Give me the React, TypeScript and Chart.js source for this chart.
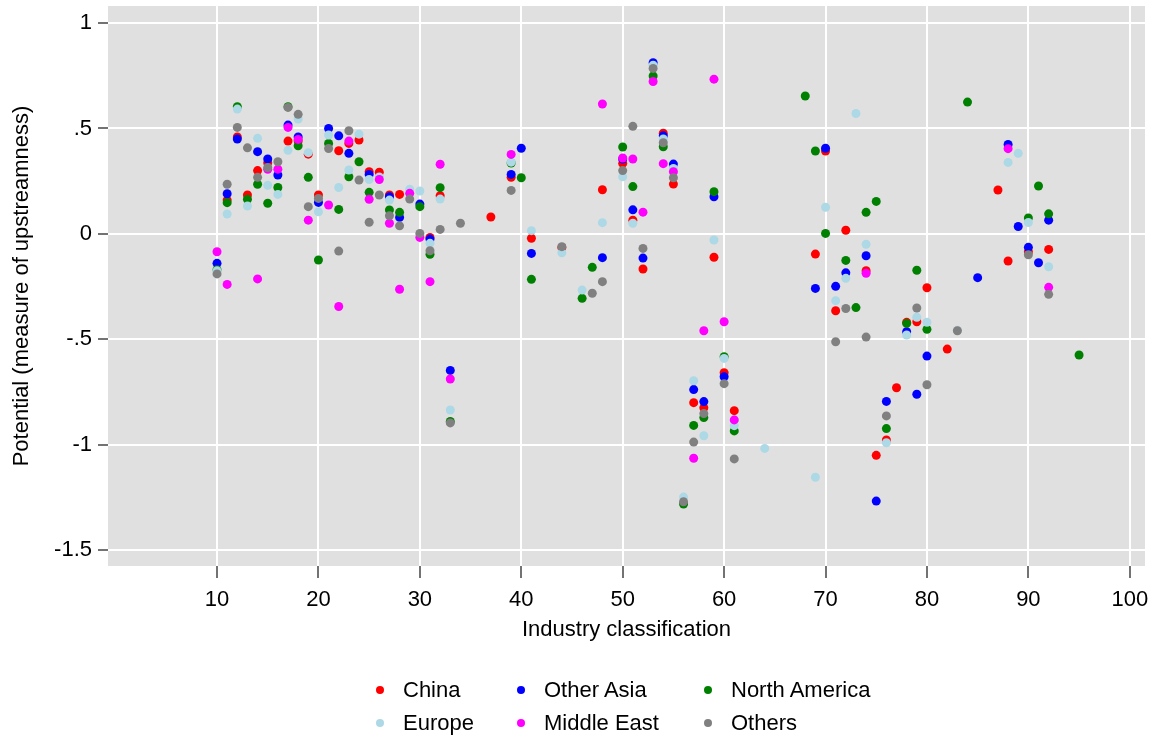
import React, { useEffect, useRef } from "react";
import { Chart, registerables } from "chart.js";

Chart.register(...registerables);

const FONT = '"Liberation Sans", Arial, Helvetica, sans-serif';

const seriesNames = ["China", "Other Asia", "North America", "Europe", "Middle East", "Others"];
const seriesColors = ["#ff0000", "#0000ff", "#008000", "#add8e6", "#ff00ff", "#808080"];

const chinaX = [11, 12, 13, 14, 15, 17, 18, 19, 20, 22, 23, 24, 25, 26, 27, 28, 31, 32, 37, 39, 41, 44, 48, 50, 51, 52, 54, 55, 57, 58, 59, 60, 61, 69, 70, 71, 72, 74, 75, 76, 77, 78, 79, 80, 82, 87, 88, 90, 92];
const chinaY = [0.16, 0.46, 0.184, 0.3, 0.337, 0.44, 0.44, 0.378, 0.184, 0.394, 0.429, 0.445, 0.295, 0.292, 0.184, 0.187, -0.017, 0.181, 0.08, 0.268, -0.021, -0.065, 0.209, 0.334, 0.065, -0.167, 0.477, 0.236, -0.801, -0.825, -0.111, -0.659, -0.839, -0.096, 0.393, -0.365, 0.017, -0.175, -1.051, -0.978, -0.73, -0.42, -0.417, -0.256, -0.547, 0.208, -0.129, -0.085, -0.074];

const otherAsiaX = [10, 11, 12, 14, 15, 16, 17, 18, 20, 21, 22, 23, 25, 27, 28, 30, 31, 33, 39, 40, 41, 48, 50, 51, 52, 53, 54, 55, 57, 58, 59, 60, 69, 70, 71, 72, 74, 75, 76, 78, 79, 80, 85, 88, 89, 90, 91, 92];
const otherAsiaY = [-0.14, 0.19, 0.45, 0.39, 0.355, 0.279, 0.516, 0.46, 0.149, 0.5, 0.465, 0.382, 0.282, 0.176, 0.078, 0.141, -0.025, -0.648, 0.282, 0.406, -0.093, -0.113, 0.355, 0.114, -0.115, 0.812, 0.465, 0.331, -0.739, -0.796, 0.176, -0.678, -0.259, 0.406, -0.249, -0.185, -0.104, -1.268, -0.795, -0.464, -0.761, -0.58, -0.208, 0.424, 0.035, -0.064, -0.137, 0.065];

const northAmericaX = [10, 11, 12, 13, 14, 15, 16, 17, 18, 19, 20, 21, 22, 23, 24, 25, 27, 28, 30, 31, 32, 33, 39, 40, 41, 46, 47, 50, 51, 53, 54, 56, 57, 58, 59, 60, 61, 68, 69, 70, 72, 73, 74, 75, 76, 78, 79, 80, 84, 90, 91, 92, 95];
const northAmericaY = [-0.17, 0.148, 0.603, 0.164, 0.235, 0.145, 0.22, 0.603, 0.418, 0.268, -0.124, 0.429, 0.116, 0.271, 0.342, 0.197, 0.113, 0.102, 0.129, -0.097, 0.219, -0.89, 0.336, 0.266, -0.216, -0.306, -0.159, 0.412, 0.224, 0.749, 0.413, -1.282, -0.909, -0.872, 0.2, -0.583, -0.935, 0.654, 0.393, 0.002, -0.126, -0.35, 0.102, 0.154, -0.924, -0.425, -0.173, -0.453, 0.625, 0.075, 0.227, 0.095, -0.575];

const europeX = [10, 11, 12, 13, 14, 15, 16, 17, 18, 19, 20, 21, 22, 23, 24, 25, 26, 27, 29, 30, 31, 32, 33, 39, 41, 44, 46, 48, 50, 51, 53, 54, 55, 56, 57, 58, 59, 60, 61, 64, 69, 70, 71, 72, 73, 74, 76, 78, 79, 80, 83, 88, 89, 90, 92];
const europeY = [-0.175, 0.094, 0.592, 0.132, 0.453, 0.23, 0.187, 0.396, 0.545, 0.385, 0.105, 0.469, 0.22, 0.303, 0.473, 0.258, 0.27, 0.16, 0.212, 0.203, -0.045, 0.165, -0.836, 0.34, 0.015, -0.09, -0.267, 0.053, 0.271, 0.05, 0.8, 0.45, 0.31, -1.249, -0.697, -0.958, -0.029, -0.591, -0.91, -1.018, -1.155, 0.126, -0.317, -0.211, 0.571, -0.05, -0.991, -0.48, -0.396, -0.42, -0.458, 0.339, 0.382, 0.054, -0.156];

const middleEastX = [10, 11, 14, 15, 16, 17, 18, 19, 21, 22, 23, 25, 26, 27, 28, 29, 30, 31, 32, 33, 39, 48, 50, 51, 52, 53, 54, 55, 57, 58, 59, 60, 61, 74, 88, 92];
const middleEastY = [-0.085, -0.24, -0.214, 0.306, 0.307, 0.505, 0.448, 0.065, 0.137, -0.345, 0.44, 0.164, 0.258, 0.05, -0.263, 0.192, -0.017, -0.227, 0.33, -0.689, 0.377, 0.616, 0.36, 0.355, 0.103, 0.723, 0.333, 0.295, -1.065, -0.46, 0.734, -0.417, -0.883, -0.187, 0.404, -0.254];

const othersX = [10, 11, 12, 13, 14, 15, 16, 17, 18, 19, 20, 21, 22, 23, 24, 25, 26, 27, 28, 29, 30, 31, 32, 33, 34, 39, 44, 47, 48, 50, 51, 52, 53, 54, 55, 56, 57, 58, 60, 61, 71, 72, 74, 76, 79, 80, 83, 90, 92];
const othersY = [-0.19, 0.235, 0.505, 0.408, 0.268, 0.315, 0.342, 0.6, 0.567, 0.129, 0.168, 0.405, -0.082, 0.489, 0.255, 0.055, 0.184, 0.086, 0.038, 0.165, 0.002, -0.08, 0.021, -0.897, 0.05, 0.206, -0.061, -0.282, -0.227, 0.3, 0.51, -0.069, 0.785, 0.432, 0.266, -1.271, -0.988, -0.853, -0.711, -1.068, -0.512, -0.354, -0.49, -0.864, -0.352, -0.716, -0.46, -0.099, -0.287];

const xTicks = [10, 20, 30, 40, 50, 60, 70, 80, 90, 100];
const yTicks = [-1.5, -1, -0.5, 0, 0.5, 1];
const yTickLabels = ["-1.5", "-1", "-.5", "0", ".5", "1"];

const seriesX = [chinaX, otherAsiaX, northAmericaX, europeX, middleEastX, othersX];
const seriesY = [chinaY, otherAsiaY, northAmericaY, europeY, middleEastY, othersY];

const bgPlugin = {
  id: "plotBg",
  beforeDraw(chart: any) {
    const { ctx, chartArea } = chart;
    if (!chartArea) return;
    ctx.save();
    ctx.fillStyle = "#e0e0e0";
    ctx.fillRect(chartArea.left, chartArea.top, chartArea.right - chartArea.left, chartArea.bottom - chartArea.top);
    ctx.restore();
  },
};

export default function App() {
  const canvasRef = useRef<HTMLCanvasElement | null>(null);

  useEffect(() => {
    if (!canvasRef.current) return;
    const datasets = seriesNames.map((name, i) => ({
      label: name,
      data: seriesX[i].map((x, j) => ({ x, y: seriesY[i][j] })),
      backgroundColor: seriesColors[i],
      borderColor: seriesColors[i],
      borderWidth: 0,
      pointRadius: 4.5,
      pointHoverRadius: 4.5,
      order: seriesNames.length - i,
    }));
    const chart = new Chart(canvasRef.current, {
      type: "scatter",
      data: { datasets },
      plugins: [bgPlugin],
      options: {
        animation: false,
        responsive: false,
        devicePixelRatio: 1,
        layout: { padding: { left: 0, right: 11, top: 6, bottom: 94 } },
        plugins: { legend: { display: false }, tooltip: { enabled: false } },
        scales: {
          x: {
            type: "linear",
            min: -0.75,
            max: 101.5,
            afterBuildTicks: (s: any) => {
              s.ticks = xTicks.map((v) => ({ value: v }));
            },
            afterFit: (s: any) => {
              s.height = 80;
              s.paddingLeft = 0;
              s.paddingRight = 0;
            },
            ticks: {
              font: { family: FONT, size: 22 },
              color: "#000",
              padding: 9,
              maxRotation: 0,
              autoSkip: false,
            },
            grid: { color: "#ffffff", lineWidth: 2, tickColor: "#444", tickLength: 12, tickWidth: 1.5 },
            border: { display: false },
            title: {
              display: true,
              text: "Industry classification",
              font: { family: FONT, size: 22 },
              color: "#000",
              padding: { top: 0, bottom: 3 },
            },
          },
          y: {
            type: "linear",
            min: -1.576,
            max: 1.081,
            afterBuildTicks: (s: any) => {
              s.ticks = yTicks.map((v) => ({ value: v }));
            },
            afterFit: (s: any) => {
              s.width = 108;
              s.paddingTop = 0;
              s.paddingBottom = 0;
            },
            ticks: {
              font: { family: FONT, size: 22 },
              color: "#000",
              padding: 6,
              callback: (v: any) => {
                const idx = yTicks.indexOf(Number(v));
                return idx >= 0 ? yTickLabels[idx] : "";
              },
            },
            grid: { color: "#ffffff", lineWidth: 2, tickColor: "#444", tickLength: 10, tickWidth: 1.5 },
            border: { display: false },
            title: {
              display: true,
              text: "Potential (measure of upstreamness)",
              font: { family: FONT, size: 22 },
              color: "#000",
              padding: { top: 9, bottom: 0 },
            },
          },
        },
      },
    });
    return () => chart.destroy();
  }, []);

  const legendCols = [380, 521, 708];
  const legendRows = [690, 723];

  return (
    <div style={{ position: "absolute", left: 0, top: 0, width: 1156, height: 740, background: "#fff" }}>
      <canvas ref={canvasRef} width={1156} height={740} style={{ width: 1156, height: 740, display: "block" }} />
      {seriesNames.map((name, i) => {
        const col = i % 3;
        const row = Math.floor(i / 3);
        const cx = legendCols[col];
        const cy = legendRows[row];
        return (
          <React.Fragment key={name}>
            <div
              style={{
                position: "absolute",
                left: cx - 4,
                top: cy - 4,
                width: 8,
                height: 8,
                borderRadius: "50%",
                background: seriesColors[i],
              }}
            />
            <div
              style={{
                position: "absolute",
                left: cx + 23,
                top: cy - 14,
                height: 28,
                lineHeight: "28px",
                fontFamily: FONT,
                fontSize: 22,
                color: "#000",
                whiteSpace: "nowrap",
              }}
            >
              {name}
            </div>
          </React.Fragment>
        );
      })}
    </div>
  );
}
